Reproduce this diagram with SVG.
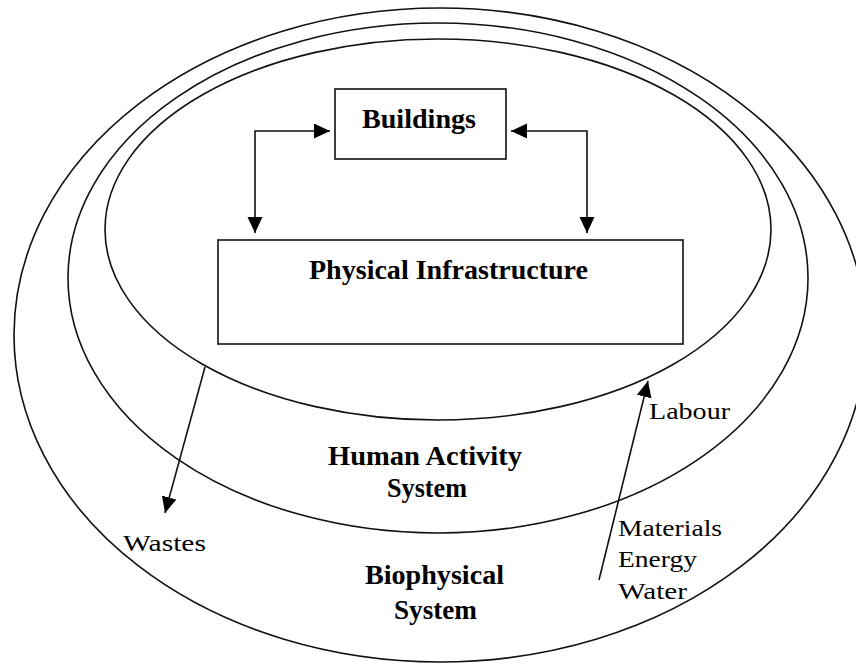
<svg xmlns="http://www.w3.org/2000/svg" width="856" height="664" viewBox="0 0 856 664">
<style>
.ring{fill:none;stroke:#111;stroke-width:1.6}
.box{fill:#fff;stroke:#111;stroke-width:1.6}
.conn{fill:none;stroke:#111;stroke-width:1.6}
.b{font-family:"Liberation Serif","Times New Roman",serif;font-weight:bold;font-size:27px;fill:#000}
.r{font-family:"Liberation Serif","Times New Roman",serif;font-size:23px;fill:#000}
</style>
<defs>
<marker id="ah" markerUnits="userSpaceOnUse" markerWidth="17" markerHeight="16" refX="16" refY="7.5" orient="auto-start-reverse">
<path d="M0,0 L16,7.5 L0,15 z" fill="#000"/>
</marker>
</defs>
<rect width="856" height="664" fill="#fff"/>
<g id="biophysical-system">
<ellipse class="ring" cx="440" cy="335" rx="426" ry="327"/>
<text class="b" x="365" y="584" textLength="139" lengthAdjust="spacingAndGlyphs">Biophysical</text>
<text class="b" x="394" y="619" textLength="83" lengthAdjust="spacingAndGlyphs">System</text>
</g>
<g id="human-activity-system">
<ellipse class="ring" cx="438" cy="278" rx="370" ry="255"/>
<text class="b" x="328" y="465" textLength="194" lengthAdjust="spacingAndGlyphs">Human Activity</text>
<text class="b" x="387" y="497" textLength="80" lengthAdjust="spacingAndGlyphs">System</text>
</g>
<g id="built-environment">
<ellipse class="ring" cx="438" cy="229.5" rx="333" ry="190.5"/>
</g>
<g id="buildings">
<rect class="box" x="335" y="89" width="171" height="70"/>
<text class="b" x="362" y="128" textLength="114" lengthAdjust="spacingAndGlyphs">Buildings</text>
</g>
<g id="physical-infrastructure">
<rect class="box" x="218" y="240" width="465" height="104"/>
<text class="b" x="309" y="279" textLength="279" lengthAdjust="spacingAndGlyphs">Physical Infrastructure</text>
</g>
<g id="connectors">
<polyline class="conn" points="330,131 255,131 255,233" marker-start="url(#ah)" marker-end="url(#ah)"/>
<polyline class="conn" points="511,131 587,131 587,233" marker-start="url(#ah)" marker-end="url(#ah)"/>
<line class="conn" x1="205" y1="367" x2="165" y2="513" marker-end="url(#ah)"/>
<line class="conn" x1="599" y1="580" x2="648" y2="381" marker-end="url(#ah)"/>
</g>
<g id="labels">
<text class="r" x="123" y="551" textLength="83" lengthAdjust="spacingAndGlyphs">Wastes</text>
<text class="r" x="649" y="419" textLength="81" lengthAdjust="spacingAndGlyphs">Labour</text>
<text class="r" x="618" y="536" textLength="104" lengthAdjust="spacingAndGlyphs">Materials</text>
<text class="r" x="618" y="567" textLength="79" lengthAdjust="spacingAndGlyphs">Energy</text>
<text class="r" x="618" y="599" textLength="69" lengthAdjust="spacingAndGlyphs">Water</text>
</g>
</svg>
